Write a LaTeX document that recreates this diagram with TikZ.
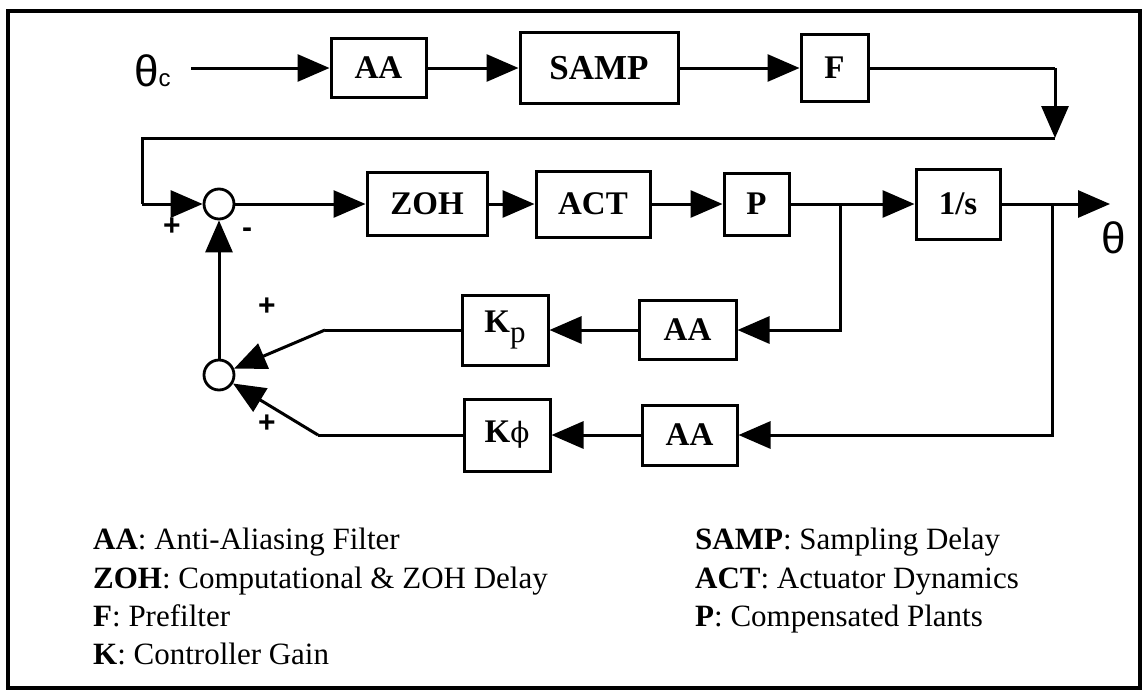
\documentclass[tikz,border=0pt]{standalone}
\usepackage{fontspec}
\setmainfont{Liberation Serif}
\newfontfamily\sansf{Liberation Sans}
\newfontfamily\dvs{DejaVu Serif}
\usetikzlibrary{arrows.meta}
\begin{document}
\begin{tikzpicture}[x=1pt,y=-1pt,
  blk/.style={draw,line width=3pt,inner sep=0pt,font=\fontsize{33}{33}\selectfont\bfseries},
  sumc/.style={draw,circle,line width=2.8pt,minimum size=30pt,inner sep=0pt},
  conn/.style={line width=3pt},
  arr/.style={conn,-{Triangle[length=32pt,width=27pt]}},
  sgn/.style={font=\sansf\bfseries\fontsize{30}{30}\selectfont,inner sep=0pt},
  leg/.style={anchor=base west,inner sep=0pt,font=\fontsize{31}{31}\selectfont},
  sym/.style={anchor=base west,inner sep=0pt,font=\sansf\fontsize{44}{44}\selectfont},
  ]
\useasboundingbox (0,0) rectangle (1148,691);
\draw[line width=3.2pt] (8,11) rectangle (1140,688);

% top row
\node[sym] (thc) at (134,86) {θ{\fontsize{24}{24}\selectfont c}};
\coordinate (thcout) at (191,68);
\node[blk,minimum width=95pt,minimum height=59pt] (aa1) at (378.5,68) {AA};
\node[blk,minimum width=158pt,minimum height=71pt,font=\fontsize{35}{35}\selectfont\bfseries] (samp) at (599,68) {SAMP};
\node[blk,minimum width=67pt,minimum height=67pt] (f) at (834.5,68) {F};

% main row
\node[sumc] (c1) at (219,204) {};
\node[blk,minimum width=120pt,minimum height=63pt] (zoh) at (427,204) {ZOH};
\node[blk,minimum width=114pt,minimum height=66pt] (act) at (593,204) {ACT};
\node[blk,minimum width=65pt,minimum height=62pt] (p) at (756.5,204) {P};
\node[blk,minimum width=84pt,minimum height=70pt] (int) at (958,204) {1/s};
\coordinate (b1) at (840,204);
\coordinate (b2) at (1052,204);
\coordinate (out) at (1110,204);
\node[sym] (th) at (1101,253) {θ};

% feedback rows
\node[blk,minimum width=97pt,minimum height=59pt] (aam) at (687.5,330) {AA};
\node[blk,minimum width=86pt,minimum height=70pt] (kp) at (505,330) {K\raisebox{-0.3em}{\fontsize{31}{31}\selectfont\mdseries p}};
\node[blk,minimum width=95pt,minimum height=60pt] (aab) at (689.5,435) {AA};
\node[blk,minimum width=86pt,minimum height=72pt] (kphi) at (507,435) {K{\dvs\mdseries\fontsize{28}{28}\selectfont ϕ}};
\node[sumc] (c2) at (219,375) {};
\coordinate (kpbend) at (325,330);
\coordinate (kphibend) at (318,435);

% prefilter path corners
\coordinate (fr) at (1055,68);
\coordinate (fd) at (1055,138);
\coordinate (fl) at (142,138);
\coordinate (fb) at (142,204);

% connectors
\draw[arr] (thcout) -- (aa1);
\draw[arr] (aa1) -- (samp);
\draw[arr] (samp) -- (f);
\draw[conn] (f.east) -- (fr);
\draw[arr] (fr) -- (fd);
\draw[conn] (fd) -- (fl) -- (fb);
\draw[arr] (fb) -- (c1);
\draw[arr] (c1) -- (zoh);
\draw[arr] (zoh) -- (act);
\draw[arr] (act) -- (p);
\draw[conn] (p) -- (b1);
\draw[arr] (b1) -- (int);
\draw[arr] (int) -- (out);
\draw[arr] (b1) |- (aam);
\draw[arr] (aam) -- (kp);
\draw[conn] (kp) -- (kpbend);
\draw[arr] (kpbend) -- (c2);
\draw[arr] (b2) |- (aab);
\draw[arr] (aab) -- (kphi);
\draw[conn] (kphi) -- (kphibend);
\draw[arr] (kphibend) -- (c2);
\draw[arr] (c2) -- (c1);

% signs
\node[sgn] (s1) at (172,227) {+};
\node[sgn] (s2) at (247,233) {-};
\node[sgn] (s3) at (267,307) {+};
\node[sgn] (s4) at (267,424) {+};

% legend
\node[leg] (l1) at (93,549) {\textbf{AA}: Anti-Aliasing Filter};
\node[leg] (l2) at (93,588) {\textbf{ZOH}: Computational \& ZOH Delay};
\node[leg] (l3) at (93,626) {\textbf{F}: Prefilter};
\node[leg] (l4) at (93,664) {\textbf{K}: Controller Gain};
\node[leg] (r1) at (695,549) {\textbf{SAMP}: Sampling Delay};
\node[leg] (r2) at (695,588) {\textbf{ACT}: Actuator Dynamics};
\node[leg] (r3) at (695,626) {\textbf{P}: Compensated Plants};
\end{tikzpicture}
\end{document}
